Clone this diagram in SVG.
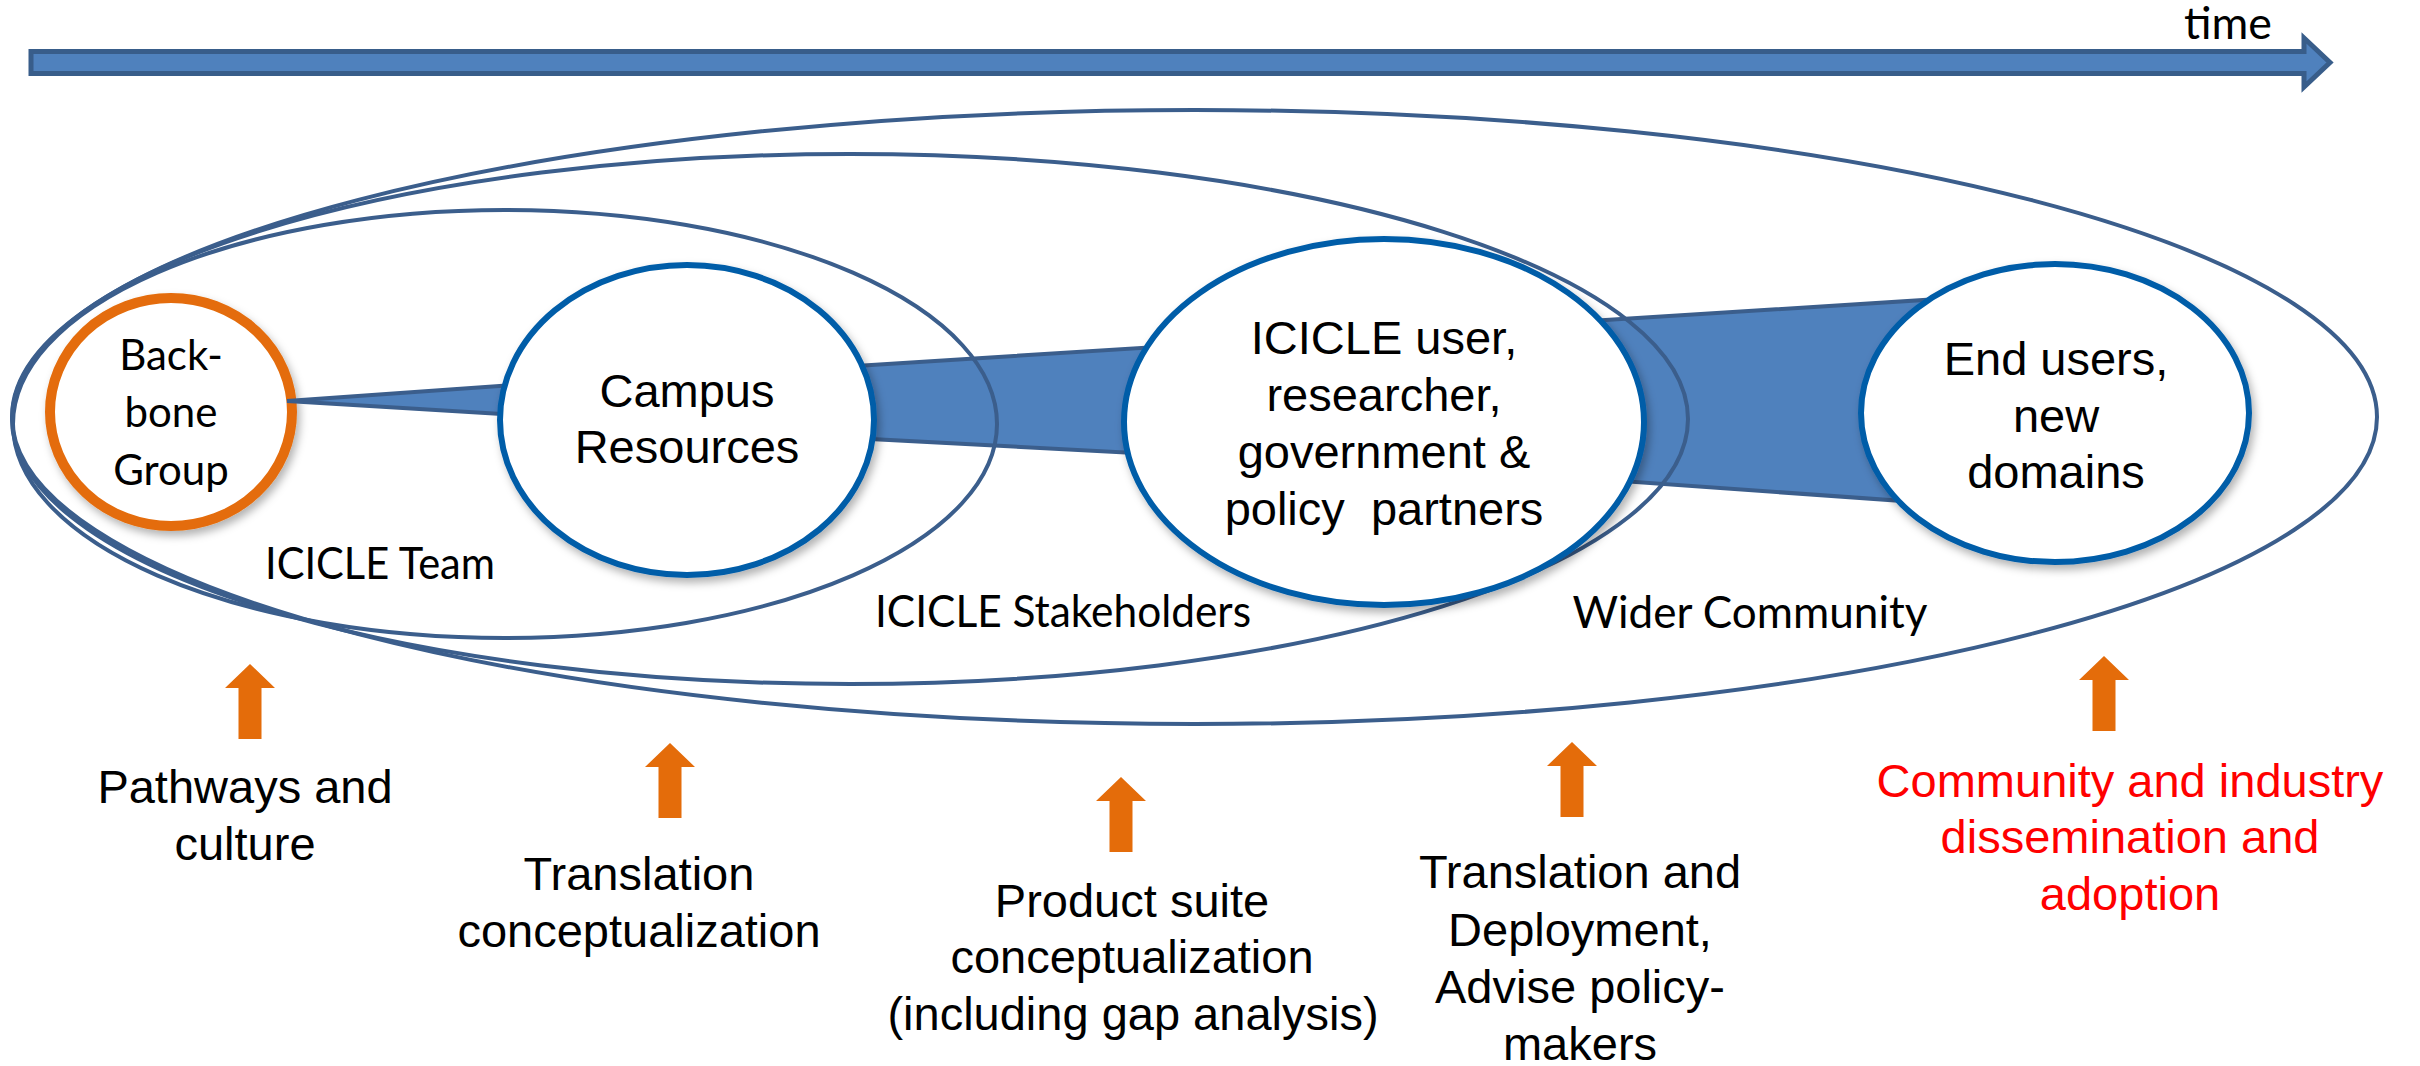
<svg xmlns="http://www.w3.org/2000/svg" xmlns:xlink="http://www.w3.org/1999/xlink" width="2420" height="1066" viewBox="0 0 2420 1066">
  <style>
    .region { fill: none; stroke: #3B5E8C; stroke-width: 4; }
    .node { fill: #FFFFFF; stroke: #005DA8; stroke-width: 6; }
    .backbone { fill: #FFFFFF; stroke: #E46C0A; stroke-width: 10; }
    .link { fill: #4F81BD; stroke: #3B5E8C; stroke-width: 4; stroke-linejoin: miter; }
    .lbl { font-family: "Liberation Sans", Arial, sans-serif; font-size: 47px; fill: #000000; text-anchor: middle; }
    .cal { font-family: Lato, "Open Sans", sans-serif; fill: #000000; text-anchor: middle; }
    .red { fill: #FF0000; }
    .oarrow { fill: #E46C0A; }
  </style>
  <defs>
    <filter id="shadow" x="-10%" y="-10%" width="125%" height="130%">
      <feDropShadow dx="3" dy="5" stdDeviation="4" flood-color="#000000" flood-opacity="0.3"/>
    </filter>
    <path id="up-arrow" d="M0,0 L25,24 L11.5,24 L11.5,75 L-11.5,75 L-11.5,24 L-25,24 Z"/>
  </defs>

  <rect width="2420" height="1066" fill="#FFFFFF"/>

  <!-- time axis -->
  <g id="time-axis">
    <path d="M31,51.5 L2304,51.5 L2304,38 L2330,62.5 L2304,87 L2304,73.5 L31,73.5 Z" fill="#4F81BD" stroke="#385D8A" stroke-width="5" stroke-linejoin="miter"/>
    <text class="cal" x="2228" y="39" font-size="44" textLength="88" lengthAdjust="spacingAndGlyphs">time</text>
  </g>

  <!-- backbone node (drawn first so the taper tip sits on its ring) -->
  <g id="node-backbone">
    <ellipse class="backbone" cx="171" cy="412" rx="121" ry="114" filter="url(#shadow)"/>
    <text class="cal" font-size="42" x="171" y="370">Back-</text>
    <text class="cal" font-size="42" x="171" y="427">bone</text>
    <text class="cal" font-size="42" x="171" y="485">Group</text>
  </g>

  <!-- connectors (tapered bands) -->
  <g id="connectors">
    <polygon id="link-backbone-campus" class="link" points="287,401 560,381.8 560,417.6"/>
    <polygon id="link-campus-icicle" class="link" points="800,369.4 1200,344.3 1200,456.4 800,435.3"/>
    <polygon id="link-icicle-endusers" class="link" points="1550,323.6 1960,297.7 1960,505 1550,476"/>
  </g>

  <!-- nested regions -->
  <g id="region-team">
    <ellipse class="region" cx="505" cy="424" rx="492" ry="214"/>
    <text class="cal" font-size="44" x="380" y="579" textLength="230" lengthAdjust="spacingAndGlyphs">ICICLE Team</text>
  </g>
  <g id="region-stakeholders">
    <ellipse class="region" cx="850" cy="419" rx="838" ry="265"/>
    <text class="cal" font-size="44" x="1063" y="627" textLength="376" lengthAdjust="spacingAndGlyphs">ICICLE Stakeholders</text>
  </g>
  <g id="region-wider">
    <ellipse class="region" cx="1194.5" cy="417" rx="1182.5" ry="307"/>
    <text class="cal" font-size="44" x="1750" y="628" textLength="355" lengthAdjust="spacingAndGlyphs">Wider Community</text>
  </g>

  <!-- circle nodes -->
  <g id="node-campus">
    <ellipse class="node" cx="687" cy="420" rx="187" ry="155" filter="url(#shadow)"/>
    <text class="lbl" x="687" y="407">Campus</text>
    <text class="lbl" x="687" y="463">Resources</text>
  </g>
  <g id="node-icicle">
    <ellipse class="node" cx="1384" cy="422" rx="260" ry="183" filter="url(#shadow)"/>
    <text class="lbl" x="1384" y="354">ICICLE user,</text>
    <text class="lbl" x="1384" y="411">researcher,</text>
    <text class="lbl" x="1384" y="468">government &amp;</text>
    <text class="lbl" x="1384" y="525" style="white-space:pre">policy  partners</text>
  </g>
  <g id="node-endusers">
    <ellipse class="node" cx="2055" cy="413" rx="194" ry="149" filter="url(#shadow)"/>
    <text class="lbl" x="2056" y="375">End users,</text>
    <text class="lbl" x="2056" y="432">new</text>
    <text class="lbl" x="2056" y="488">domains</text>
  </g>

  <!-- stage markers -->
  <g id="stage-pathways">
    <use xlink:href="#up-arrow" href="#up-arrow" class="oarrow" x="250" y="664"/>
    <text class="lbl" x="245" y="803">Pathways and</text>
    <text class="lbl" x="245" y="860">culture</text>
  </g>
  <g id="stage-translation">
    <use xlink:href="#up-arrow" href="#up-arrow" class="oarrow" x="670" y="743"/>
    <text class="lbl" x="639" y="890">Translation</text>
    <text class="lbl" x="639" y="947">conceptualization</text>
  </g>
  <g id="stage-product">
    <use xlink:href="#up-arrow" href="#up-arrow" class="oarrow" x="1121" y="777"/>
    <text class="lbl" x="1132" y="917">Product suite</text>
    <text class="lbl" x="1132" y="973">conceptualization</text>
    <text class="lbl" x="1133" y="1030">(including gap analysis)</text>
  </g>
  <g id="stage-deployment">
    <use xlink:href="#up-arrow" href="#up-arrow" class="oarrow" x="1572" y="742"/>
    <text class="lbl" x="1580" y="888">Translation and</text>
    <text class="lbl" x="1580" y="946">Deployment,</text>
    <text class="lbl" x="1580" y="1003">Advise policy-</text>
    <text class="lbl" x="1580" y="1060">makers</text>
  </g>
  <g id="stage-adoption">
    <use xlink:href="#up-arrow" href="#up-arrow" class="oarrow" x="2104" y="656"/>
    <text class="lbl red" x="2130" y="797">Community and industry</text>
    <text class="lbl red" x="2130" y="853">dissemination and</text>
    <text class="lbl red" x="2130" y="910">adoption</text>
  </g>
</svg>
